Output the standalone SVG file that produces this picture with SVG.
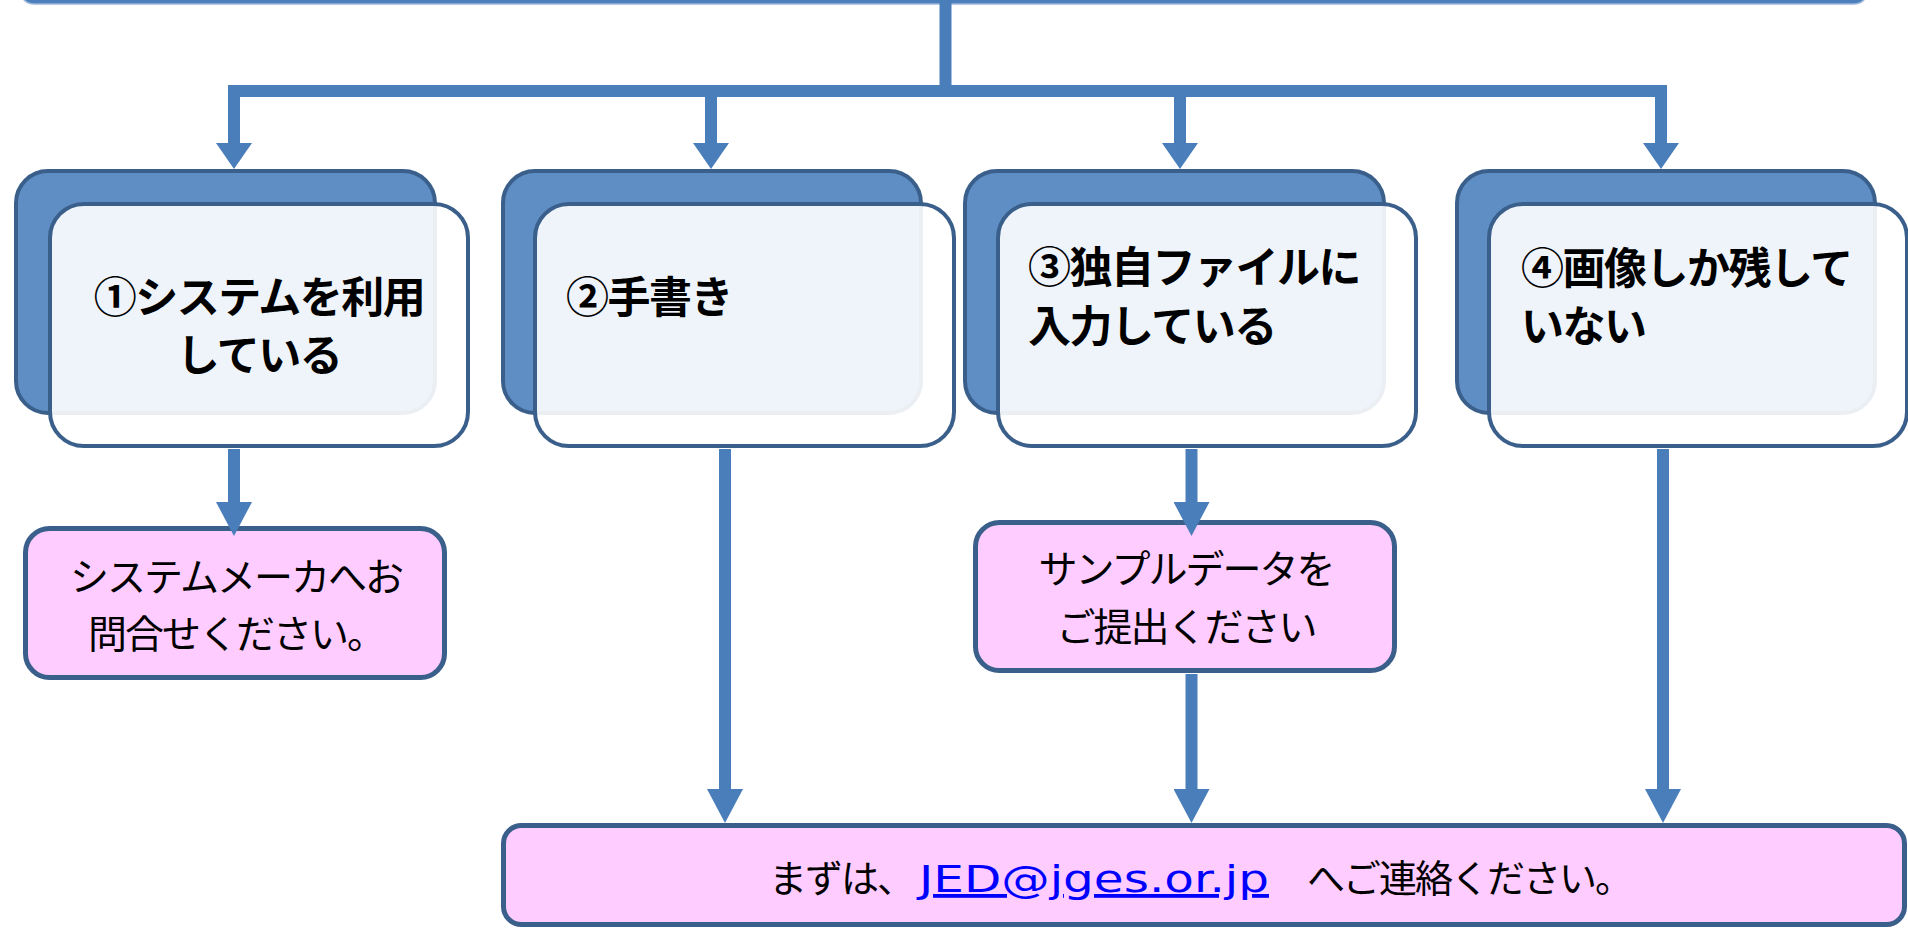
<svg xmlns="http://www.w3.org/2000/svg" width="1908" height="929" viewBox="0 0 1908 929">
<style>
.back{fill:#5F8EC5;stroke:#3A5F8B;stroke-width:4}
.front{fill:#FFFFFF;fill-opacity:0.9;stroke:#3A5F8B;stroke-width:4}
.pink{fill:#FFCCFF;stroke:#3A5F8B;stroke-width:5}
.conn{stroke:#4A7EBB;stroke-width:12;fill:none}
.bold{font-family:"Noto Sans CJK JP","Noto Sans",sans-serif;font-weight:700;font-size:43px;letter-spacing:-1.5px;fill:#000}
.reg{font-family:"Noto Sans CJK JP","Noto Sans",sans-serif;font-weight:400;font-size:39px;letter-spacing:-2px;fill:#000}
.link{font-family:"DejaVu Sans","Noto Sans CJK JP",sans-serif;fill:#0000FF;text-decoration:underline;letter-spacing:0}
</style>
<defs>
<marker id="headS" markerUnits="userSpaceOnUse" markerWidth="26" markerHeight="36" viewBox="0 0 26 36" refX="0" refY="18" orient="auto">
<path d="M0,0 L26,18 L0,36 z" fill="#4A7EBB"/>
</marker>
<marker id="headL" markerUnits="userSpaceOnUse" markerWidth="34" markerHeight="36" viewBox="0 0 34 36" refX="0" refY="18" orient="auto">
<path d="M0,0 L34,18 L0,36 z" fill="#4A7EBB"/>
</marker>
</defs>

<g id="node-top">
<rect x="20" y="-40" width="1848" height="44" rx="14" fill="#4D7FBC" stroke="#9DB8DB" stroke-width="1.5"/>
</g>

<g id="node-1">
<rect class="back" x="16" y="171" width="419" height="242" rx="32"/>
<rect class="front" x="50" y="204" width="418" height="242" rx="34"/>
<text class="bold" x="259" y="313" text-anchor="middle">①システムを利用</text>
<text class="bold" x="259" y="371" text-anchor="middle">している</text>
</g>

<g id="node-2">
<rect class="back" x="503" y="171" width="418" height="242" rx="32"/>
<rect class="front" x="535" y="204" width="419" height="242" rx="34"/>
<text class="bold" x="566" y="313">②手書き</text>
</g>

<g id="node-3">
<rect class="back" x="965" y="171" width="419" height="242" rx="32"/>
<rect class="front" x="998" y="204" width="418" height="242" rx="34"/>
<text class="bold" x="1028" y="283">③独自ファイルに</text>
<text class="bold" x="1028" y="342">入力している</text>
</g>

<g id="node-4">
<rect class="back" x="1457" y="171" width="418" height="242" rx="32"/>
<rect class="front" x="1489" y="204" width="418" height="242" rx="34"/>
<text class="bold" x="1521" y="284">④画像しか残して</text>
<text class="bold" x="1521" y="342">いない</text>
</g>

<g id="node-maker">
<rect class="pink" x="25.5" y="528.5" width="419" height="149" rx="24"/>
<text class="reg" x="236" y="591" text-anchor="middle">システムメーカへお</text>
<text class="reg" x="236" y="648" text-anchor="middle">問合せください。</text>
</g>

<g id="node-sample">
<rect class="pink" x="975.5" y="522.5" width="419" height="148" rx="24"/>
<text class="reg" x="1186" y="583" text-anchor="middle">サンプルデータを</text>
<text class="reg" x="1186" y="641" text-anchor="middle">ご提出ください</text>
</g>

<g id="node-contact">
<rect class="pink" x="503.5" y="825.5" width="1401" height="99" rx="18"/>
<text class="reg" style="font-size:38px" y="892"><tspan x="769">まずは、</tspan><tspan class="link" x="919" textLength="350" lengthAdjust="spacingAndGlyphs">JED@jges.or.jp</tspan><tspan x="1307">へご連絡ください。</tspan></text>
</g>

<g id="connectors">
<line class="conn" x1="945.5" y1="0" x2="945.5" y2="97" stroke-width="11"/>
<line class="conn" x1="228" y1="91" x2="1667" y2="91"/>
<line class="conn" x1="234" y1="91" x2="234" y2="143" marker-end="url(#headS)" stroke-width="11"/>
<line class="conn" x1="711" y1="91" x2="711" y2="143" marker-end="url(#headS)" stroke-width="11"/>
<line class="conn" x1="1180" y1="91" x2="1180" y2="143" marker-end="url(#headS)" stroke-width="11"/>
<line class="conn" x1="1661" y1="91" x2="1661" y2="143" marker-end="url(#headS)" stroke-width="11"/>
<line class="conn" x1="234" y1="449" x2="234" y2="502" marker-end="url(#headL)"/>
<line class="conn" x1="725" y1="449" x2="725" y2="789" marker-end="url(#headL)"/>
<line class="conn" x1="1191.5" y1="449" x2="1191.5" y2="502" marker-end="url(#headL)"/>
<line class="conn" x1="1191.5" y1="674" x2="1191.5" y2="789" marker-end="url(#headL)"/>
<line class="conn" x1="1663" y1="449" x2="1663" y2="789" marker-end="url(#headL)"/>
</g>
</svg>
